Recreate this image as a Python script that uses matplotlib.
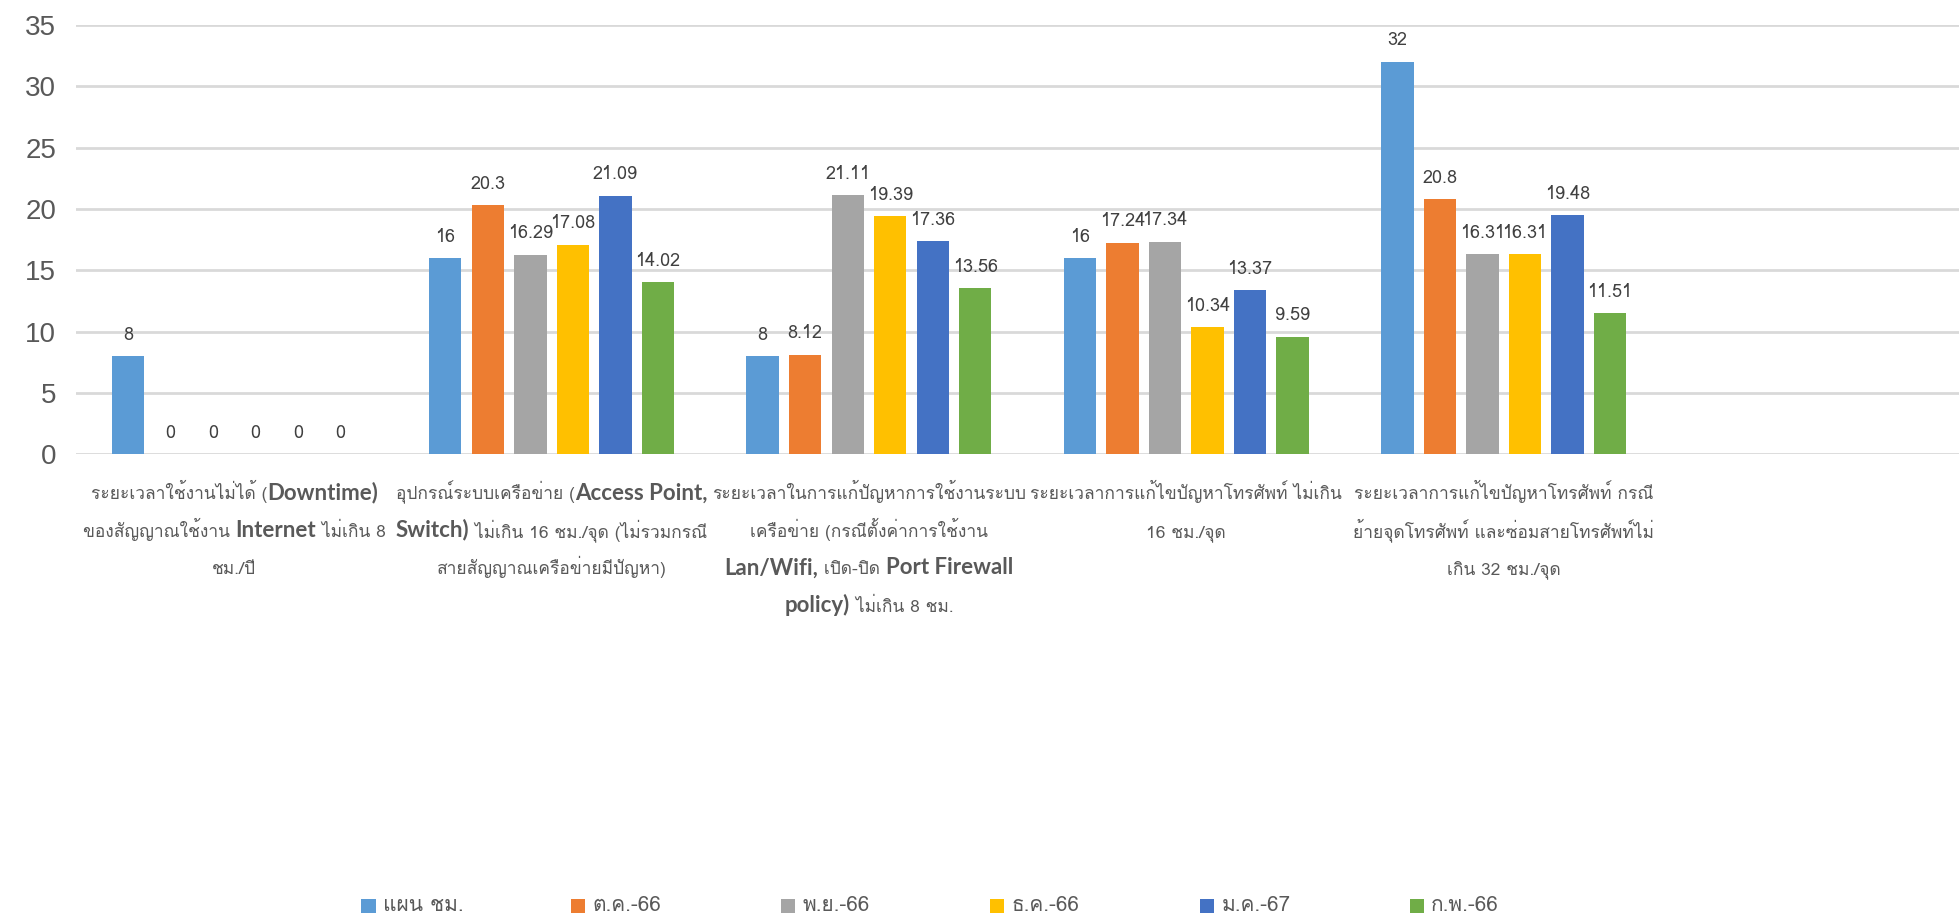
import re
import numpy as np
import matplotlib
matplotlib.use('Agg')
import matplotlib.pyplot as plt
from matplotlib import font_manager
from matplotlib.ft2font import FT2Font
from matplotlib.patches import Rectangle

# find a font with Thai glyphs, if there is one
thai_font = None
for f in font_manager.fontManager.ttflist:
    try:
        if 0x0E01 in FT2Font(f.fname).get_charmap():
            thai_font = f.name
            break
    except Exception:
        pass
families = ([thai_font] if thai_font else []) + ['DejaVu Sans']
plt.rcParams['font.family'] = families
latin_families = ['Lato', 'DejaVu Sans']
num_families = ['Liberation Sans', 'DejaVu Sans']

categories = [
    'ระยะเวลาใช้งานไม่ได้ (Downtime)\nของสัญญาณใช้งาน Internet ไม่เกิน 8\nชม./ปี',
    'อุปกรณ์ระบบเครือข่าย (Access Point,\nSwitch) ไม่เกิน 16 ชม./จุด (ไม่รวมกรณี\nสายสัญญาณเครือข่ายมีปัญหา)',
    'ระยะเวลาในการแก้ปัญหาการใช้งานระบบ\nเครือข่าย (กรณีตั้งค่าการใช้งาน\nLan/Wifi, เปิด-ปิด Port Firewall\npolicy) ไม่เกิน 8 ชม.',
    'ระยะเวลาการแก้ไขปัญหาโทรศัพท์ ไม่เกิน\n16 ชม./จุด',
    'ระยะเวลาการแก้ไขปัญหาโทรศัพท์ กรณี\nย้ายจุดโทรศัพท์ และซ่อมสายโทรศัพท์ไม่\nเกิน 32 ชม./จุด',
]
series_names = ['แผน ชม.', 'ต.ค.-66', 'พ.ย.-66', 'ธ.ค.-66', 'ม.ค.-67', 'ก.พ.-66']
plan = [8, 16, 8, 16, 32]
oct66 = [0, 20.3, 8.12, 17.24, 20.8]
nov66 = [0, 16.29, 21.11, 17.34, 16.31]
dec66 = [0, 17.08, 19.39, 10.34, 16.31]
jan67 = [0, 21.09, 17.36, 13.37, 19.48]
feb66 = [0, 14.02, 13.56, 9.59, 11.51]
series = [plan, oct66, nov66, dec66, jan67, feb66]
colors = ['#5B9BD5', '#ED7D31', '#A5A5A5', '#FFC000', '#4472C4', '#70AD47']

fig = plt.figure(figsize=(19.59, 9.16), dpi=100)
ax = fig.add_axes([0.0386, 0.504, 1 - 0.0386, 0.4687])

x = np.arange(len(categories))
pitch = 0.134
width = 0.102
for i, (vals, c) in enumerate(zip(series, colors)):
    pos = x + (i - 2.5) * pitch
    ax.bar(pos, vals, width, color=c, zorder=3)
    for xp, v in zip(pos, vals):
        ax.annotate('{:g}'.format(v), (xp, v), xytext=(0, 9), textcoords='offset points',
                    ha='center', va='bottom', fontsize=13, color='#404040')

ax.set_xlim(-0.5, 5.435)
ax.set_ylim(0, 35)
ax.set_yticks(np.arange(0, 36, 5))
ax.yaxis.grid(True, color='#d9d9d9', linewidth=2)
ax.set_axisbelow(True)
for s in ax.spines.values():
    s.set_visible(False)
ax.tick_params(axis='y', length=0, pad=14, labelsize=20, labelcolor='#595959')
for t in ax.get_yticklabels():
    t.set_family(num_families)
ax.set_xticks(x)
ax.set_xticklabels([])
ax.tick_params(axis='x', length=0)

# category labels: Thai text small, English words larger (as in the Excel original)
renderer = fig.canvas.get_renderer()
latin = re.compile(r"[A-Za-z][A-Za-z/,)]*(?: [A-Za-z][A-Za-z/,)]*)*")
for i, lab in enumerate(categories):
    for j, line in enumerate(lab.split('\n')):
        segs = []
        k = 0
        for m in latin.finditer(line):
            if m.start() > k:
                segs.append((line[k:m.start()], False))
            segs.append((m.group(), True))
            k = m.end()
        if k < len(line):
            segs.append((line[k:], False))
        texts = []
        for s, big in segs:
            if big:
                t = ax.annotate(s, (i, 0), xycoords=('data', 'axes fraction'), xytext=(0, 0),
                                textcoords='offset pixels', ha='left', va='baseline',
                                fontsize=16, fontweight='bold', family=latin_families, color='#595959')
            else:
                t = ax.annotate(s, (i, 0), xycoords=('data', 'axes fraction'), xytext=(0, 0),
                                textcoords='offset pixels', ha='left', va='baseline',
                                fontsize=12.5, color='#595959')
            texts.append(t)
        widths = [t.get_window_extent(renderer).width for t in texts]
        xoff = -sum(widths) / 2
        for t, w in zip(texts, widths):
            t.set_position((xoff, -45 - 37.5 * j))
            xoff += w

# legend, one entry per slot as in the original
for i, (name, c) in enumerate(zip(series_names, colors)):
    lx = 0.1845 + 0.107 * i
    fig.patches.append(Rectangle((lx, 0.0035), 0.0072, 0.0155, transform=fig.transFigure,
                                 facecolor=c, edgecolor='none', figure=fig))
    fig.text(lx + 0.011, 0.011, name, fontsize=15, color='#595959', ha='left', va='center')

fig.savefig('out.png', dpi=100)
